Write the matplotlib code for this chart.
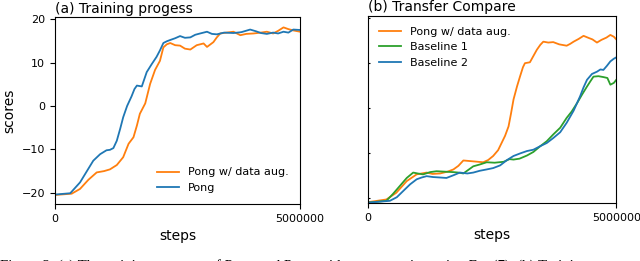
import numpy as np
import matplotlib
matplotlib.use("Agg")
import matplotlib.pyplot as plt

# (a) training progress, x in million steps
a_pong_x = [0, 0.31, 0.51, 0.65, 0.78, 0.92, 1.05, 1.12, 1.19, 1.26, 1.33, 1.39, 1.47, 1.56, 1.62,
            1.67, 1.77, 1.87, 1.97, 2.07, 2.14, 2.21, 2.28, 2.35, 2.45, 2.55, 2.65, 2.76, 2.86,
            2.96, 3.1, 3.2, 3.3, 3.45, 3.64, 3.8, 3.98, 4.1, 4.2, 4.32, 4.45, 4.55, 4.66, 4.76,
            4.86, 5.0]
a_pong_y = [-20.4, -20.1, -17.6, -15.0, -12.6, -11.1, -10.2, -10.1, -9.7, -8.0, -5.2, -2.6, 0.0,
            2.2, 3.9, 4.7, 4.5, 7.8, 9.6, 11.3, 12.8, 14.5, 14.9, 15.2, 15.6, 16.1, 15.7, 15.8,
            16.4, 16.7, 17.1, 16.6, 16.5, 16.9, 16.8, 17.0, 17.6, 17.2, 16.8, 16.6, 16.9, 16.7,
            17.1, 16.9, 17.6, 17.5]
a_aug_x = [0, 0.34, 0.51, 0.68, 0.85, 1.0, 1.12, 1.26, 1.39, 1.5, 1.6, 1.67, 1.73, 1.84, 1.94,
           2.04, 2.14, 2.21, 2.28, 2.35, 2.45, 2.55, 2.65, 2.76, 2.89, 3.03, 3.1, 3.23, 3.3,
           3.37, 3.5, 3.64, 3.78, 3.9, 4.05, 4.2, 4.32, 4.45, 4.55, 4.66, 4.76, 4.86, 5.0]
a_aug_y = [-20.5, -20.2, -19.1, -17.0, -15.3, -15.0, -14.6, -13.6, -11.8, -8.7, -7.2, -4.5,
           -1.8, 0.6, 5.1, 8.3, 10.4, 13.5, 14.2, 14.5, 14.0, 13.9, 13.2, 13.0, 14.0, 14.4,
           13.6, 14.7, 15.8, 16.7, 16.9, 17.1, 16.3, 16.6, 16.7, 16.9, 17.1, 16.7, 17.3, 18.1,
           17.7, 17.4, 17.1]

# (b) transfer compare
b_aug_x = [0, 0.37, 0.57, 0.78, 0.98, 1.18, 1.3, 1.45, 1.6, 1.72, 1.82, 1.92, 2.02, 2.12, 2.22,
           2.32, 2.42, 2.52, 2.62, 2.69, 2.76, 2.83, 2.88, 2.93, 3.0, 3.06, 3.12, 3.16, 3.26,
           3.33, 3.4, 3.47, 3.53, 3.63, 3.73, 3.85, 4.0, 4.07, 4.14, 4.24, 4.34, 4.45, 4.52,
           4.61, 4.7, 4.8, 4.88, 4.95, 5.0]
b_aug_y = [-21.0, -20.4, -18.9, -16.3, -14.8, -14.4, -14.7, -14.6, -14.2, -13.7, -12.9, -11.7,
           -11.8, -11.9, -12.0, -12.1, -11.6, -10.7, -9.4, -7.8, -6.2, -4.1, -1.2, 1.9, 4.8,
           7.0, 9.1, 10.0, 10.2, 11.6, 13.0, 14.1, 14.8, 14.6, 14.7, 14.2, 13.9, 14.3, 14.8,
           15.4, 16.1, 15.6, 15.3, 14.6, 15.2, 15.7, 16.3, 15.9, 15.3]
b_base1_x = [0, 0.37, 0.5, 0.64, 0.78, 0.91, 1.0, 1.11, 1.25, 1.38, 1.55, 1.72, 1.82, 1.92, 2.02,
             2.12, 2.25, 2.39, 2.55, 2.73, 2.85, 2.93, 3.05, 3.2, 3.33, 3.47, 3.6, 3.73, 3.87,
             4.0, 4.1, 4.21, 4.31, 4.41, 4.48, 4.54, 4.64, 4.74, 4.82, 4.88, 4.95, 5.0]
b_base1_y = [-21.1, -20.7, -19.2, -17.4, -15.6, -14.4, -14.6, -14.8, -14.3, -14.1, -14.2, -14.3,
             -14.4, -14.6, -13.8, -13.0, -12.6, -12.1, -12.2, -12.0, -11.4, -11.5, -11.3,
             -10.6, -9.8, -8.5, -7.4, -5.9, -4.4, -2.2, -0.8, 1.1, 3.0, 4.8, 6.0, 7.0, 7.1,
             6.9, 6.7, 5.2, 5.6, 6.3]
b_base2_x = [0, 0.44, 0.58, 0.71, 0.85, 0.98, 1.08, 1.18, 1.31, 1.45, 1.58, 1.72, 1.85, 2.0,
             2.12, 2.25, 2.39, 2.52, 2.66, 2.8, 2.93, 3.07, 3.2, 3.33, 3.47, 3.6, 3.73, 3.87,
             4.0, 4.14, 4.27, 4.34, 4.41, 4.51, 4.61, 4.68, 4.74, 4.81, 4.88, 4.95, 5.0]
b_base2_y = [-21.1, -20.7, -19.9, -18.5, -17.0, -15.9, -15.5, -15.2, -15.4, -15.5, -15.6, -15.0,
             -14.4, -14.6, -14.4, -14.0, -13.7, -13.4, -12.8, -11.6, -10.7, -10.1, -9.6, -9.3,
             -8.5, -7.8, -6.7, -5.4, -3.3, -0.6, 2.6, 4.6, 6.3, 7.6, 8.1, 8.6, 8.5, 9.4, 10.4,
             11.0, 11.3]

C_BLUE, C_ORANGE, C_GREEN = "#1f77b4", "#ff7f0e", "#2ca02c"

fig = plt.figure(figsize=(6.4, 2.61), dpi=100)
ax1 = fig.add_axes([0.086, 0.218, 0.383, 0.717])
ax2 = fig.add_axes([0.575, 0.222, 0.388, 0.718])

ax1.plot(np.array(a_aug_x) * 1e6, a_aug_y, color=C_ORANGE, lw=1.3, label="Pong w/ data aug.")
ax1.plot(np.array(a_pong_x) * 1e6, a_pong_y, color=C_BLUE, lw=1.3, label="Pong")
ax1.set_xlim(0, 5e6)
ax1.set_ylim(-22.6, 20.5)
ax1.set_xticks([0, 5000000])
ax1.set_xticklabels(["0", "5000000"])
ax1.set_yticks([-20, -10, 0, 10, 20])
ax1.set_ylabel("scores", fontsize=10)
ax1.set_xlabel("steps", fontsize=10)
ax1.set_title("(a) Training progess", loc="left", fontsize=10, pad=3)
ax1.legend(loc="lower right", frameon=False, fontsize=8, borderaxespad=0.6)

ax2.plot(np.array(b_aug_x) * 1e6, b_aug_y, color=C_ORANGE, lw=1.3, label="Pong w/ data aug.")
ax2.plot(np.array(b_base1_x) * 1e6, b_base1_y, color=C_GREEN, lw=1.3, label="Baseline 1")
ax2.plot(np.array(b_base2_x) * 1e6, b_base2_y, color=C_BLUE, lw=1.3, label="Baseline 2")
ax2.set_xlim(0, 5e6)
ax2.set_ylim(-21.2, 20.6)
ax2.set_xticks([0, 5000000])
ax2.set_xticklabels(["0", "5000000"])
ax2.set_yticks([-20, -10, 0, 10, 20])
ax2.tick_params(axis="y", labelleft=False, direction="in", length=1.5)
ax2.set_xlabel("steps", fontsize=10)
ax2.set_title("(b) Transfer Compare", loc="left", fontsize=10, pad=3)
ax2.legend(loc="upper left", frameon=False, fontsize=8, borderaxespad=0.6)

for ax in (ax1, ax2):
    ax.tick_params(labelsize=8)

# caption of the source paper, cut off at the bottom edge as in the original
fig.text(0.0, 1 - 259 / 261, "Figure 3: (a) The training progress of Pong and Pong with augmentation "
         "using Eq. (7). (b) Training", family="Liberation Serif", fontsize=10.7, va="top", ha="left")

fig.savefig("out.png", dpi=100)
